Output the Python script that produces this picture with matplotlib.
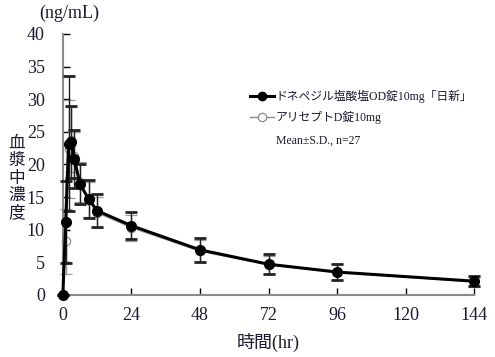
import matplotlib.pyplot as plt
import numpy as np

# sampling times (hr)
times = [0, 1, 2, 3, 4, 6, 9, 12, 24, 48, 72, 96, 144]

# ドネペジル塩酸塩OD錠10mg「日新」
od_mean = [0, 11.2, 23.2, 23.4, 20.8, 17.0, 14.7, 12.9, 10.6, 6.9, 4.7, 3.5, 2.1]
od_sd = [0, 6.3, 10.3, 5.5, 4.4, 3.1, 2.9, 2.5, 2.1, 1.8, 1.5, 1.2, 0.8]

# アリセプトD錠10mg
ref_mean = [0, 8.2, 22.4, 23.8, 21.3, 17.3, 14.6, 12.6, 10.3, 6.7, 4.6, 3.5, 2.0]
ref_sd = [0, 5.0, 7.5, 5.0, 3.6, 3.0, 2.7, 2.4, 2.0, 1.7, 1.4, 1.2, 0.8]

xticks = [0, 24, 48, 72, 96, 120, 144]
yticks = [0, 5, 10, 15, 20, 25, 30, 35, 40]

fonts = ['Liberation Serif', 'Noto Sans CJK JP', 'DejaVu Sans']
plt.rcParams['font.family'] = fonts
txt = '#1a1a2e'

fig = plt.figure(figsize=(4.95, 3.57), dpi=100)
ax = fig.add_axes([0.127, 0.174, 0.831, 0.731])

# reference product (open circles, gray)
ax.errorbar(times, ref_mean, yerr=ref_sd, color='#9a9a9a', lw=1.0,
            marker='o', ms=6, mfc='white', mec='#8a8a8a', mew=0.9,
            ecolor='#9a9a9a', elinewidth=1.0, capsize=4, capthick=1.5,
            zorder=2)

# test product (filled circles, black)
ax.errorbar(times, od_mean, yerr=od_sd, color='black', lw=2.2,
            marker='o', ms=7, mfc='black', mec='black',
            ecolor='#222222', elinewidth=1.0, capsize=4, capthick=2.0,
            zorder=3)

ax.set_xlim(0, 144)
ax.set_ylim(0, 40)
ax.set_xticks(xticks)
ax.set_yticks(yticks)
ax.tick_params(direction='in', length=5, width=1, color='black',
               labelsize=13, labelcolor=txt)
ax.tick_params(axis='y', pad=13)
ax.tick_params(axis='x', pad=9)

for side in ['top', 'right']:
    ax.spines[side].set_visible(False)
for side in ['left', 'bottom']:
    ax.spines[side].set_color('#8a8a8a')
    ax.spines[side].set_linewidth(1.5)
for art in ax.lines + ax.collections:
    art.set_clip_on(False)

# axis titles
fig.text(0.14, 0.963, '(ng/mL)', ha='center', va='center', fontsize=13,
         color=txt)
fig.text(0.033, 0.5, '血\n漿\n中\n濃\n度', ha='center', va='center',
         fontsize=12, color=txt, linespacing=1.12)
ax.set_xlabel('時間(hr)', fontsize=13, color=txt, labelpad=6)

# legend drawn by hand
lx = 0.506
fig.add_artist(plt.Line2D([lx, lx + 0.047], [0.73, 0.73], transform=fig.transFigure,
                          color='black', lw=2.2))
fig.add_artist(plt.Line2D([lx + 0.0235], [0.73], transform=fig.transFigure,
                          color='black', marker='o', ms=6, mfc='black'))
fig.text(lx + 0.051, 0.73, 'ドネペジル塩酸塩OD錠10mg「日新」', ha='left',
         va='center', fontsize=8.5, color=txt)
fig.add_artist(plt.Line2D([lx, lx + 0.047], [0.672, 0.672], transform=fig.transFigure,
                          color='#8a8a8a', lw=1.0))
fig.add_artist(plt.Line2D([lx + 0.0235], [0.672], transform=fig.transFigure,
                          color='#8a8a8a', marker='o', ms=6, mfc='white',
                          mec='#8a8a8a', mew=0.9))
fig.text(lx + 0.051, 0.672, 'アリセプトD錠10mg', ha='left', va='center',
         fontsize=8.5, color=txt)
fig.text(lx + 0.051, 0.605, 'Mean±S.D., n=27', ha='left', va='center',
         fontsize=8.5, color=txt)

fig.savefig('out.png', dpi=100)
